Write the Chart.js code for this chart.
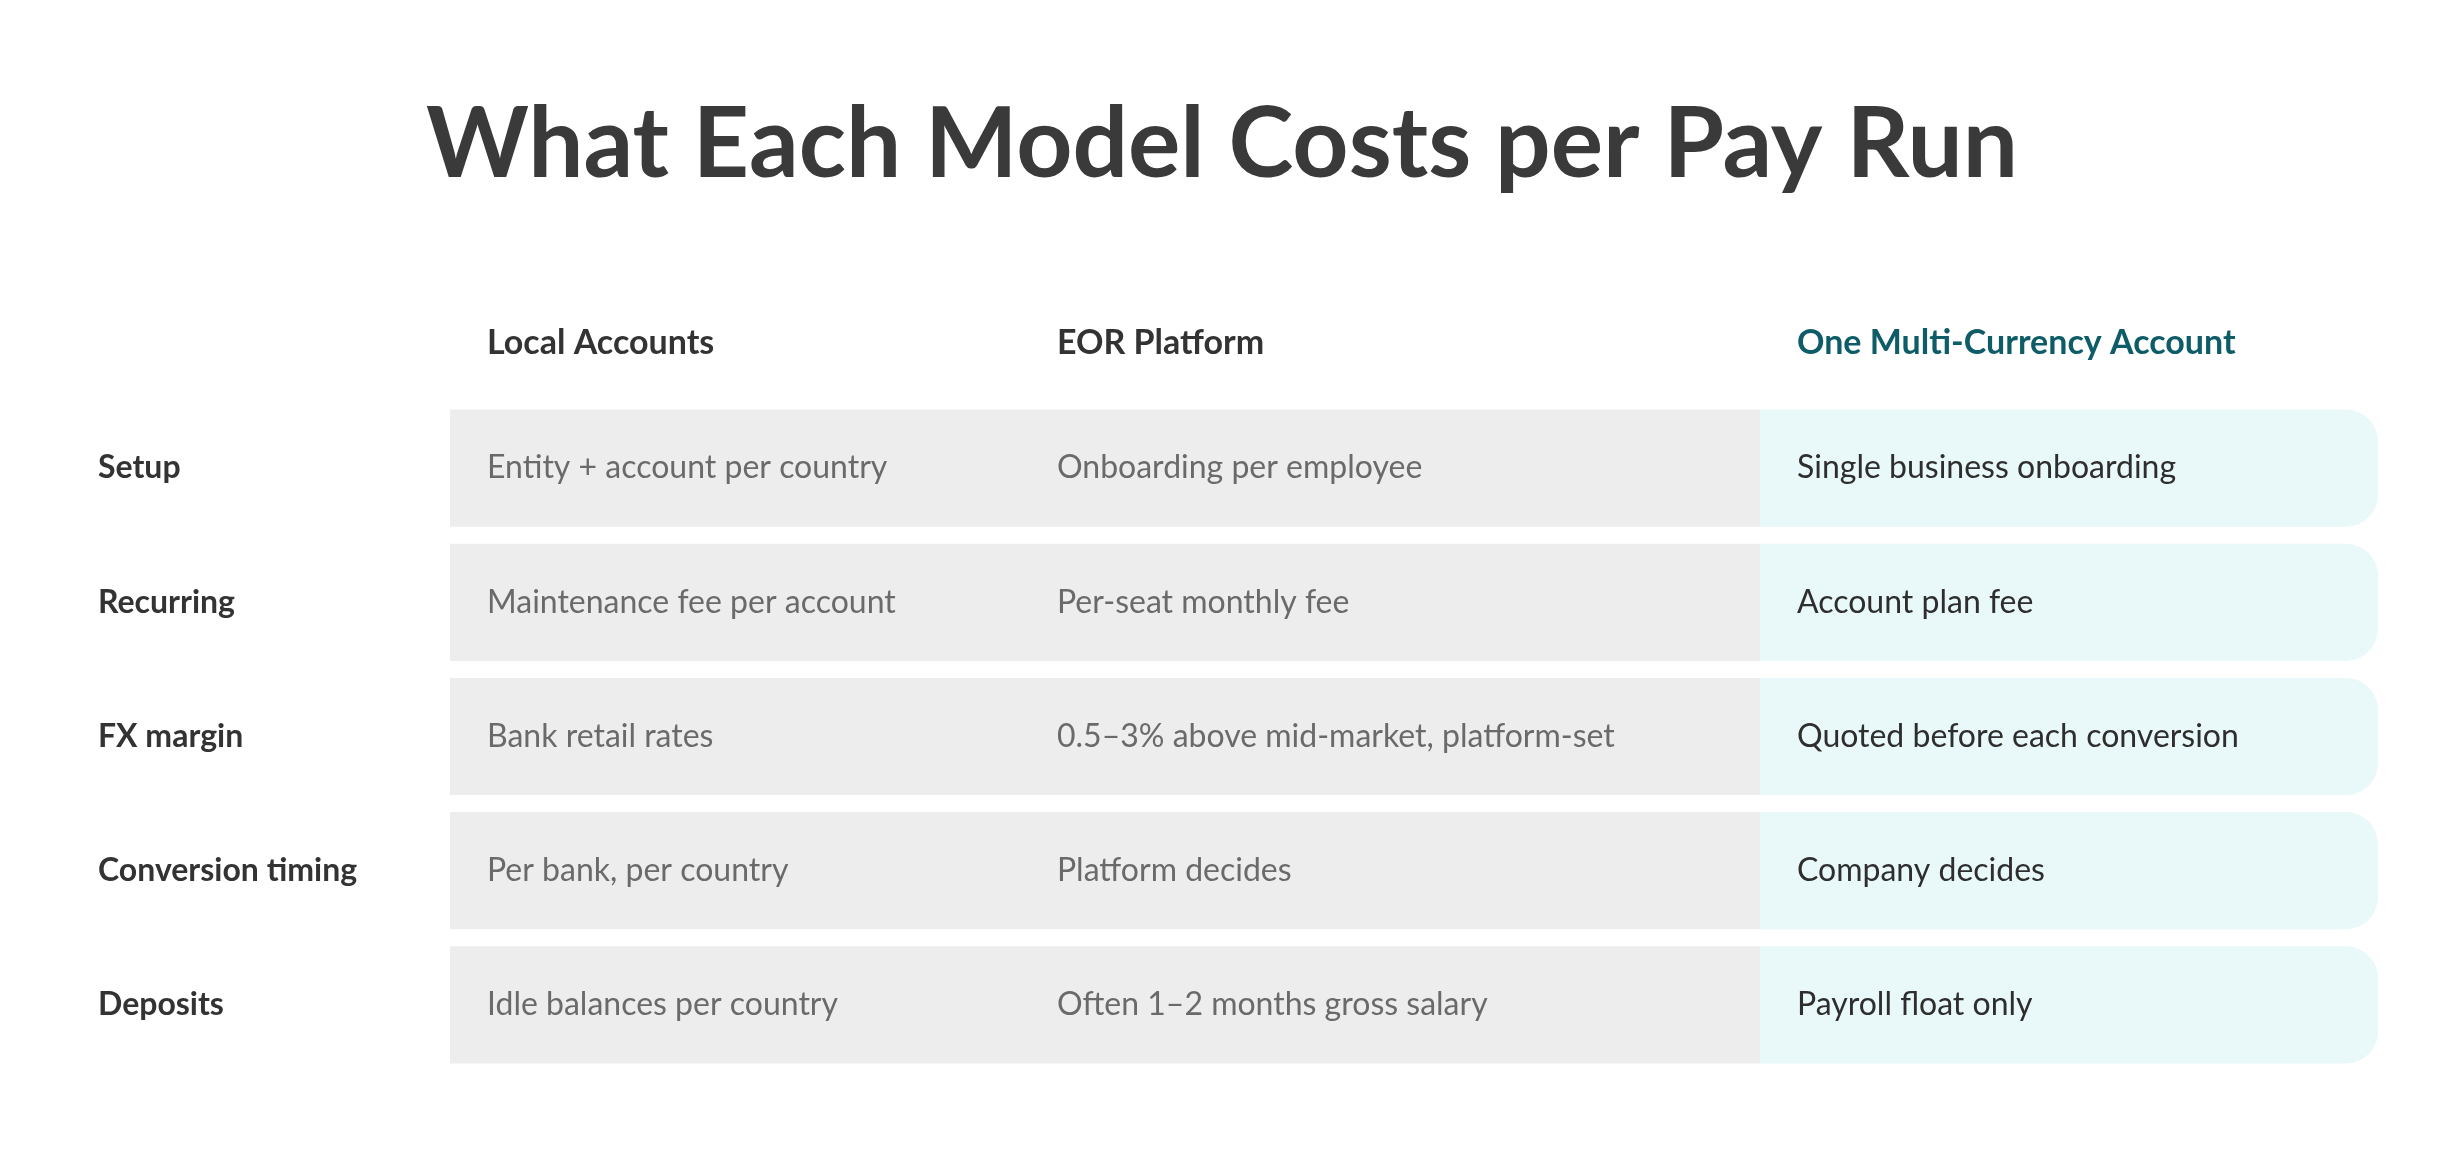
<!DOCTYPE html>
<html lang="en">
<head>
    <meta charset="UTF-8">
    <title>What Each Model Costs per Pay Run</title>
    <script src="https://cdn.jsdelivr.net/npm/chart.js"></script>
    <style>
        html, body { margin: 0; padding: 0; background: #fff; }
        #wrap { width: 2464px; height: 1166px; }
    </style>
</head>
<body>
    <div id="wrap"><canvas id="costTable"></canvas></div>

    <script>
        // Table content
        const title = "What Each Model Costs per Pay Run";
        const rowLabels = ["Setup", "Recurring", "FX margin", "Conversion timing", "Deposits"];
        const columnHeaders = ["Local Accounts", "EOR Platform", "One Multi-Currency Account"];
        const localCells = ["Entity + account per country", "Maintenance fee per account", "Bank retail rates", "Per bank, per country", "Idle balances per country"];
        const eorCells = ["Onboarding per employee", "Per-seat monthly fee", "0.5–3% above mid-market, platform-set", "Platform decides", "Often 1–2 months gross salary"];
        const multiCells = ["Single business onboarding", "Account plan fee", "Quoted before each conversion", "Company decides", "Payroll float only"];
        // column edges on the x scale (relative widths)
        const columnEdges = [0, 570, 1310, 1928];

        const cellText = [localCells, eorCells, multiCells];
        const font = "Lato, 'Open Sans', sans-serif";

        const tableText = {
            id: "tableText",
            afterDatasetsDraw(chart) {
                const { ctx, scales: { x, y } } = chart;
                ctx.save();
                ctx.textBaseline = "middle";
                ctx.textAlign = "center";
                ctx.fillStyle = "#3a3a3a";
                ctx.font = `bold 98px ${font}`;
                ctx.fillText(title, 1222, 145);

                ctx.textAlign = "left";
                // column headers
                ctx.font = `bold 34px ${font}`;
                columnHeaders.forEach((h, i) => {
                    ctx.fillStyle = i === 2 ? "#0d5c68" : "#333333";
                    ctx.fillText(h, x.getPixelForValue(columnEdges[i]) + 37, 343);
                });
                // row labels and cells
                rowLabels.forEach((label, r) => {
                    const py = y.getPixelForValue(r);
                    ctx.font = `bold 32px ${font}`;
                    ctx.fillStyle = "#333333";
                    ctx.fillText(label, 98, py);
                    ctx.font = `32px ${font}`;
                    cellText.forEach((col, c) => {
                        ctx.fillStyle = c === 2 ? "#2e2e2e" : "#6a6a6a";
                        ctx.fillText(col[r], x.getPixelForValue(columnEdges[c]) + 37, py);
                    });
                });
                ctx.restore();
            }
        };

        new Chart(document.getElementById("costTable"), {
            type: "bar",
            data: {
                labels: rowLabels,
                datasets: [
                    {
                        label: "Local / EOR",
                        data: rowLabels.map(() => [columnEdges[0], columnEdges[2]]),
                        backgroundColor: "#ededed",
                        borderSkipped: false,
                        borderRadius: 0
                    },
                    {
                        label: "Multi-Currency",
                        data: rowLabels.map(() => [columnEdges[2], columnEdges[3]]),
                        backgroundColor: "#e9f8f8",
                        borderSkipped: false,
                        borderRadius: { topLeft: 0, bottomLeft: 0, topRight: 32, bottomRight: 32 }
                    }
                ]
            },
            options: {
                indexAxis: "y",
                responsive: true,
                maintainAspectRatio: false,
                animation: false,
                devicePixelRatio: 1,
                grouped: false,
                categoryPercentage: 1,
                barPercentage: 0.873,
                layout: { padding: { left: 450, right: 86, top: 401, bottom: 94 } },
                scales: {
                    x: { display: false, min: columnEdges[0], max: columnEdges[3] },
                    y: { display: false }
                },
                plugins: {
                    legend: { display: false },
                    tooltip: { enabled: false }
                }
            },
            plugins: [tableText]
        });
    </script>
</body>
</html>
